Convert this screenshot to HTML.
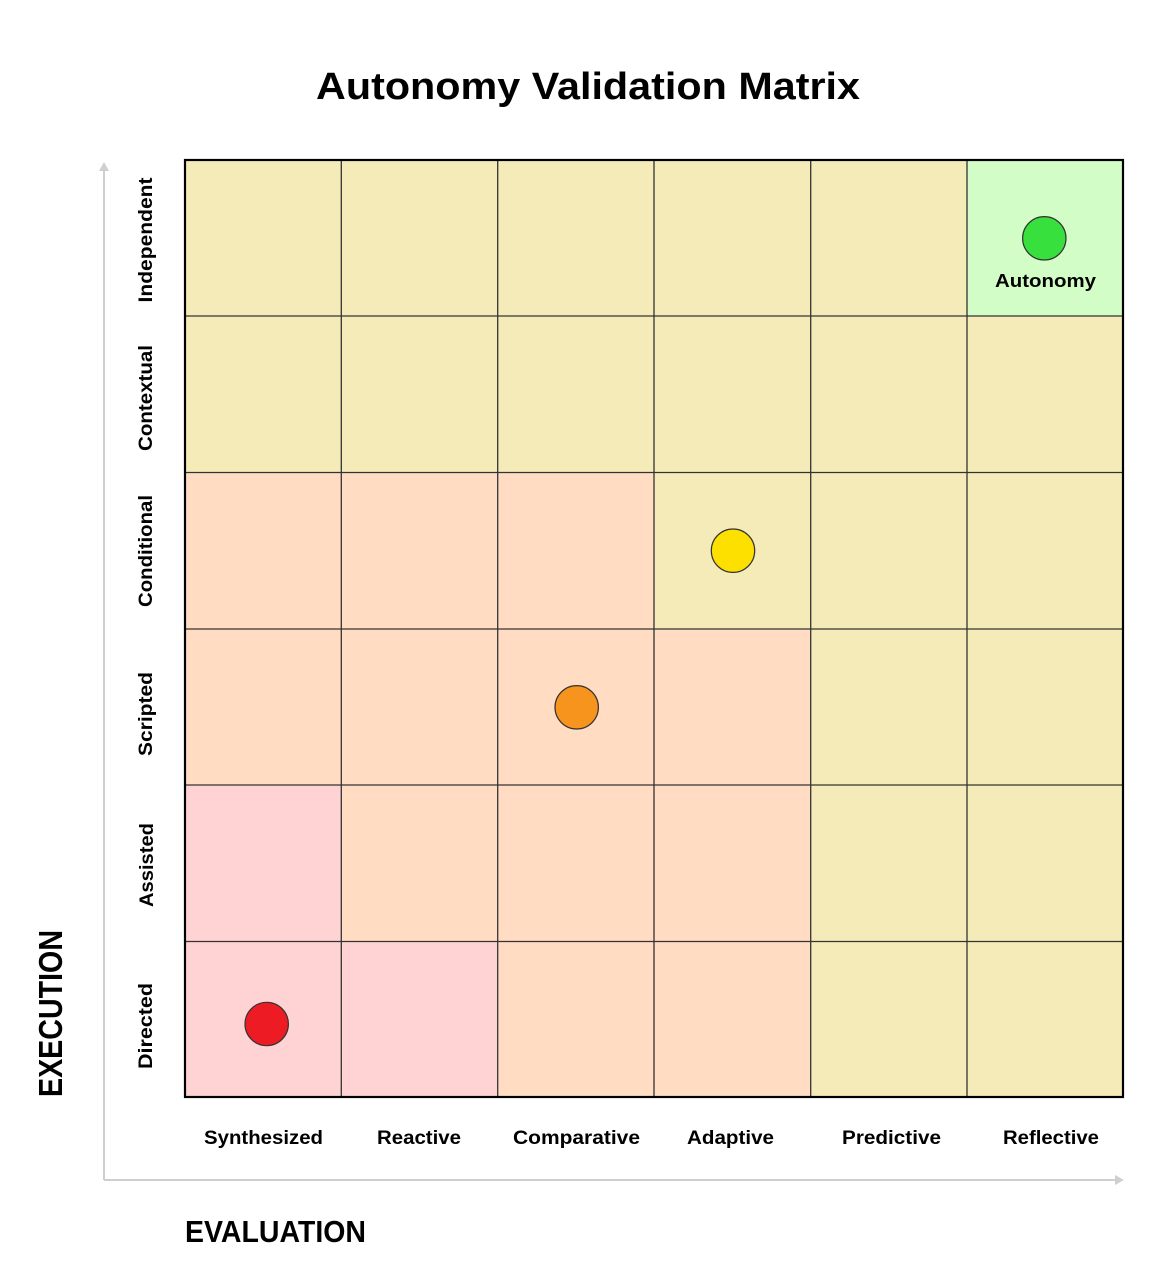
<!DOCTYPE html>
<html>
<head>
<meta charset="utf-8">
<style>
  html,body{margin:0;padding:0;background:#fff;}
  svg{display:block;}
  text{font-family:"Liberation Sans",sans-serif;font-weight:bold;fill:#000;}
</style>
</head>
<body>
<svg width="1175" height="1282" viewBox="0 0 1175 1282" xmlns="http://www.w3.org/2000/svg">
  <rect width="1175" height="1282" fill="#fff"/>
  <!-- Title -->
  <text x="588" y="99" font-size="38" text-anchor="middle" textLength="544" lengthAdjust="spacingAndGlyphs">Autonomy Validation Matrix</text>

  <!-- Axis arrows -->
  <line x1="104" y1="170" x2="104" y2="1180" stroke="#cfcfcf" stroke-width="2"/>
  <polygon points="104,162 99,171 109,171" fill="#cfcfcf"/>
  <line x1="104" y1="1180" x2="1115" y2="1180" stroke="#cfcfcf" stroke-width="2"/>
  <polygon points="1124,1180 1115,1175 1115,1185" fill="#cfcfcf"/>

  <!-- Cells -->
  <g>
    <rect x="185" y="160" width="782" height="156" fill="#f5ebb8"/>
    <rect x="967" y="160" width="156" height="156" fill="#d3fdc6"/>
    <rect x="185" y="316" width="938" height="157" fill="#f5ebb8"/>
    <rect x="185" y="472" width="469" height="157" fill="#ffdcc2"/>
    <rect x="654" y="472" width="469" height="157" fill="#f5ebb8"/>
    <rect x="185" y="629" width="626" height="156" fill="#ffdcc2"/>
    <rect x="811" y="629" width="312" height="156" fill="#f5ebb8"/>
    <rect x="185" y="785" width="156" height="156" fill="#ffd3d3"/>
    <rect x="341" y="785" width="470" height="156" fill="#ffdcc2"/>
    <rect x="811" y="785" width="312" height="156" fill="#f5ebb8"/>
    <rect x="185" y="941" width="313" height="156" fill="#ffd3d3"/>
    <rect x="498" y="941" width="313" height="156" fill="#ffdcc2"/>
    <rect x="811" y="941" width="312" height="156" fill="#f5ebb8"/>
  </g>

  <!-- Grid lines -->
  <g stroke="#333" stroke-width="1.3">
    <line x1="341.3" y1="160" x2="341.3" y2="1097"/>
    <line x1="497.7" y1="160" x2="497.7" y2="1097"/>
    <line x1="654" y1="160" x2="654" y2="1097"/>
    <line x1="810.7" y1="160" x2="810.7" y2="1097"/>
    <line x1="967" y1="160" x2="967" y2="1097"/>
    <line x1="185" y1="316" x2="1123" y2="316"/>
    <line x1="185" y1="472.5" x2="1123" y2="472.5"/>
    <line x1="185" y1="629" x2="1123" y2="629"/>
    <line x1="185" y1="785" x2="1123" y2="785"/>
    <line x1="185" y1="941.5" x2="1123" y2="941.5"/>
  </g>
  <rect x="185" y="160" width="938" height="937" fill="none" stroke="#000" stroke-width="2.2"/>

  <!-- Circles -->
  <g stroke="#333" stroke-width="1.2">
    <circle cx="1044.3" cy="238.3" r="21.7" fill="#38e03e"/>
    <circle cx="733" cy="550.7" r="21.7" fill="#fde000"/>
    <circle cx="576.7" cy="707.3" r="21.7" fill="#f7941e"/>
    <circle cx="266.7" cy="1024" r="21.7" fill="#ed1c24"/>
  </g>
  <text x="1045.5" y="287" font-size="18.5" text-anchor="middle" textLength="101" lengthAdjust="spacingAndGlyphs">Autonomy</text>

  <!-- Y tick labels -->
  <g font-size="19.5">
    <text transform="translate(152,240) rotate(-90)" text-anchor="middle" textLength="125" lengthAdjust="spacingAndGlyphs">Independent</text>
    <text transform="translate(152,398) rotate(-90)" text-anchor="middle" textLength="106" lengthAdjust="spacingAndGlyphs">Contextual</text>
    <text transform="translate(152,551) rotate(-90)" text-anchor="middle" textLength="112" lengthAdjust="spacingAndGlyphs">Conditional</text>
    <text transform="translate(152,714) rotate(-90)" text-anchor="middle" textLength="84" lengthAdjust="spacingAndGlyphs">Scripted</text>
    <text transform="translate(153,865) rotate(-90)" text-anchor="middle" textLength="84" lengthAdjust="spacingAndGlyphs">Assisted</text>
    <text transform="translate(152,1026) rotate(-90)" text-anchor="middle" textLength="86" lengthAdjust="spacingAndGlyphs">Directed</text>
  </g>

  <!-- X tick labels -->
  <g font-size="19" text-anchor="middle">
    <text x="263.5" y="1144" textLength="119" lengthAdjust="spacingAndGlyphs">Synthesized</text>
    <text x="419" y="1144" textLength="84" lengthAdjust="spacingAndGlyphs">Reactive</text>
    <text x="576.5" y="1144" textLength="127" lengthAdjust="spacingAndGlyphs">Comparative</text>
    <text x="730.5" y="1144" textLength="87" lengthAdjust="spacingAndGlyphs">Adaptive</text>
    <text x="891.5" y="1144" textLength="99" lengthAdjust="spacingAndGlyphs">Predictive</text>
    <text x="1051" y="1144" textLength="96" lengthAdjust="spacingAndGlyphs">Reflective</text>
  </g>

  <!-- Axis titles -->
  <text transform="translate(62,1013.5) rotate(-90)" font-size="33" text-anchor="middle" textLength="167" lengthAdjust="spacingAndGlyphs">EXECUTION</text>
  <text x="185" y="1242" font-size="30.5" textLength="181" lengthAdjust="spacingAndGlyphs">EVALUATION</text>
</svg>
</body>
</html>
